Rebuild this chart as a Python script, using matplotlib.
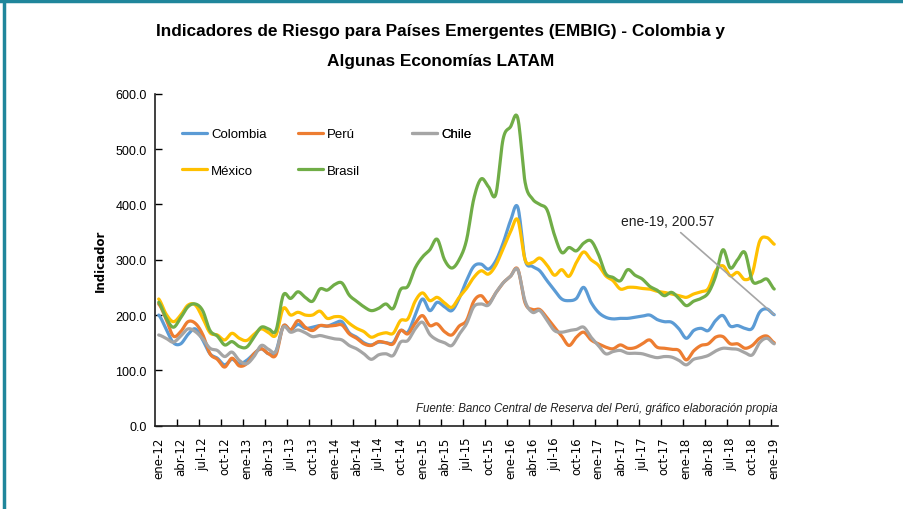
import numpy as np
import matplotlib
matplotlib.use("Agg")
import matplotlib.pyplot as plt
from matplotlib.lines import Line2D

# etiquetas mensuales ene-12 ... ene-19
meses = ['ene', 'feb', 'mar', 'abr', 'may', 'jun', 'jul', 'ago', 'sep', 'oct', 'nov', 'dic']
fechas = ['%s-%02d' % (meses[k % 12], 12 + k // 12) for k in range(85)]

colombia = [200, 175, 150, 148, 165, 175, 155, 130, 122, 110, 120, 112,
            118, 130, 139, 130, 135, 180, 173, 183, 176, 178, 181, 180,
            185, 188, 168, 160, 150, 146, 151, 150, 150, 172, 169, 200,
            229, 208, 223, 215, 208, 230, 262, 288, 292, 283, 298, 330,
            370, 395, 300, 288, 280, 262, 245, 229, 226, 230, 250, 223,
            205, 196, 193, 194, 194, 196, 198, 200, 192, 188, 187, 175,
            158, 172, 176, 172, 190, 199, 180, 181, 176, 176, 205, 211,
            200.57]
peru = [220, 193, 162, 170, 188, 185, 165, 130, 120, 106, 122, 108,
        112, 130, 139, 130, 128, 180, 173, 190, 178, 172, 181, 180,
        181, 182, 166, 158, 148, 145, 152, 150, 148, 172, 166, 185,
        199, 181, 184, 170, 164, 180, 190, 225, 235, 222, 240, 258,
        270, 283, 222, 210, 210, 195, 178, 162, 145, 160, 169, 155,
        148, 142, 139, 146, 140, 141, 148, 155, 142, 140, 138, 136,
        119, 135, 145, 148, 160, 161, 148, 148, 140, 145, 158, 162,
        150]
chile = [164, 158, 151, 162, 175, 170, 157, 140, 136, 125, 133, 118,
         112, 125, 145, 138, 134, 178, 169, 173, 168, 161, 163, 160,
         157, 155, 145, 139, 130, 120, 128, 130, 127, 151, 154, 175,
         187, 165, 155, 150, 145, 165, 184, 215, 220, 218, 240, 258,
         270, 282, 225, 205, 208, 190, 172, 169, 172, 174, 178, 160,
         145, 130, 134, 136, 131, 131, 130, 126, 123, 125, 124, 118,
         110, 120, 123, 127, 135, 140, 139, 138, 132, 128, 150, 158,
         148]
mexico = [229, 202, 188, 200, 218, 218, 195, 168, 164, 155, 167, 158,
          154, 165, 175, 168, 164, 212, 200, 205, 200, 200, 207, 194,
          197, 196, 185, 176, 170, 160, 165, 168, 167, 190, 193, 225,
          240, 226, 232, 222, 214, 232, 248, 268, 280, 274, 290, 320,
          350, 372, 300, 295, 303, 290, 272, 282, 270, 295, 314, 300,
          290, 271, 262, 247, 250, 250, 248, 247, 243, 241, 238, 235,
          232, 238, 242, 248, 280, 289, 271, 277, 264, 275, 333, 340,
          328]
brasil = [223, 195, 178, 195, 215, 220, 208, 172, 162, 146, 152, 143,
          142, 160, 178, 175, 172, 236, 230, 242, 232, 225, 247, 245,
          255, 258, 236, 225, 215, 208, 212, 220, 212, 246, 252, 285,
          305, 318, 337, 300, 285, 300, 335, 410, 446, 432, 418, 518,
          540, 556, 440, 410, 400, 390, 345, 313, 322, 316, 330, 334,
          310, 275, 268, 262, 282, 272, 265, 252, 245, 235, 241, 230,
          217, 225, 230, 240, 270, 318, 285, 300, 313, 262, 260, 265,
          247]

series = [('Colombia', colombia, '#5B9BD5'),
          ('Perú', peru, '#ED7D31'),
          ('Chile', chile, '#A5A5A5'),
          ('México', mexico, '#FFC000'),
          ('Brasil', brasil, '#70AD47')]


def suavizar(y, n=12):
    # curva tipo Catmull-Rom, parecida a la "linea suavizada" de Excel
    y = np.asarray(y, float)
    p = np.concatenate([[y[0]], y, [y[-1]]])
    xs, ys = [], []
    t = np.linspace(0, 1, n, endpoint=False)
    for k in range(len(y) - 1):
        p0, p1, p2, p3 = p[k], p[k + 1], p[k + 2], p[k + 3]
        yy = 0.5 * (2 * p1 + (-p0 + p2) * t + (2 * p0 - 5 * p1 + 4 * p2 - p3) * t ** 2
                    + (-p0 + 3 * p1 - 3 * p2 + p3) * t ** 3)
        xs.append(k + t)
        ys.append(yy)
    xs.append([len(y) - 1])
    ys.append([y[-1]])
    return np.concatenate(xs), np.concatenate(ys)


fuente = ['Liberation Sans', 'DejaVu Sans']

fig = plt.figure(figsize=(9.04, 5.10), dpi=100)
ax = fig.add_axes([0.1715, 0.1633, 0.689, 0.651])

handles = {}
for nombre, vals, color in series:
    xs, ys = suavizar(vals)
    h, = ax.plot(xs, ys, color=color, lw=2.3, solid_capstyle='round', label=nombre)
    handles[nombre] = h

ax.set_xlim(-0.5, 84.5)
ax.set_ylim(0, 600)
ax.set_yticks(np.arange(0, 601, 100))
ax.set_yticklabels(['%.1f' % v for v in np.arange(0, 601, 100)], family=fuente, fontsize=9)
ax.set_xticks(np.arange(0, 85, 3))
ax.set_xticklabels(fechas[::3], rotation=90, family='DejaVu Sans', fontsize=8.5)
ax.set_xticks(np.arange(2.5, 84, 3), minor=True)
ax.tick_params(axis='x', which='major', length=0, pad=8)
ax.tick_params(axis='x', which='minor', direction='in', length=5, width=1)
ax.tick_params(axis='y', direction='in', length=5, width=1, pad=6)
for s in ['top', 'right']:
    ax.spines[s].set_visible(False)
for s in ['left', 'bottom']:
    ax.spines[s].set_linewidth(1.2)
    ax.spines[s].set_color('#202020')

ax.set_ylabel('Indicador', fontsize=8.5, fontweight='bold', family='DejaVu Sans', labelpad=6)

# leyenda en tres columnas con ancho fijo
cols = [(['Colombia', 'México'], 0.035),
        (['Perú', 'Brasil'], 0.221),
        (['Chile'], 0.404)]
for nombres, xpos in cols:
    leg = ax.legend([handles[n] for n in nombres], nombres, loc='upper left',
                    bbox_to_anchor=(xpos, 0.912), frameon=False, handlelength=1.9,
                    handletextpad=0.3, labelspacing=1.85, borderaxespad=0,
                    prop={'family': fuente, 'size': 9.5})
    ax.add_artist(leg)

ax.annotate('ene-19, %.2f' % colombia[-1], xy=(84, colombia[-1]), xytext=(75.8, 370),
            ha='right', va='center', fontsize=10, family=fuente, color='#202020',
            arrowprops=dict(arrowstyle='-', color='#A5A5A5', lw=1.2, shrinkA=2, shrinkB=0))

ax.text(1.0, 0.052, 'Fuente: Banco Central de Reserva del Perú, gráfico elaboración propia',
        transform=ax.transAxes, ha='right', va='center', fontsize=8.3, style='italic',
        family=fuente, color='#202020')

fig.text(0.487, 0.938, 'Indicadores de Riesgo para Países Emergentes (EMBIG) - Colombia y',
         ha='center', va='center', fontsize=12.4, fontweight='bold', family=fuente)
fig.text(0.487, 0.880, 'Algunas Economías LATAM',
         ha='center', va='center', fontsize=12.4, fontweight='bold', family=fuente)

# marco azul del grafico original (arriba e izquierda)
fig.add_artist(Line2D([0, 1], [0.996, 0.996], transform=fig.transFigure, color='#1F869B', lw=2.5))
fig.add_artist(Line2D([0.0045, 0.0045], [0, 1], transform=fig.transFigure, color='#1F869B', lw=2.5))

fig.savefig('out.png', dpi=100)
